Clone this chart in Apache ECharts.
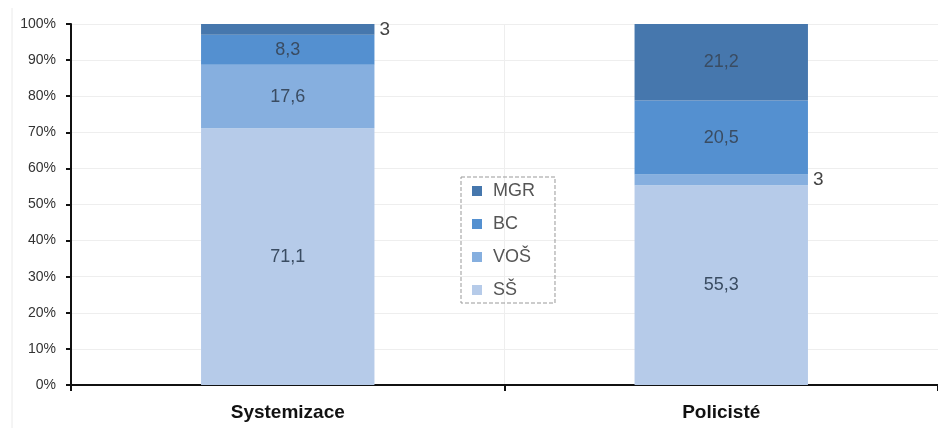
<!DOCTYPE html>
<html><head><meta charset="utf-8">
<script src="https://cdn.jsdelivr.net/npm/echarts@6/dist/echarts.min.js"></script>
<style>html,body{margin:0;padding:0;background:#fff}#c{width:938px;height:428px}</style>
</head><body><div id="c"></div>
<script>
var categories = ['Systemizace', 'Policisté'];
var yTicks = ['0%','10%','20%','30%','40%','50%','60%','70%','80%','90%','100%'];
var seriesNames = ['SŠ', 'VOŠ', 'BC', 'MGR'];
var valSS = [71.1, 55.3];
var valVOS = [17.6, 3];
var valBC = [8.3, 20.5];
var valMGR = [3, 21.2];
var colors = ['#b6cbe9', '#86afdf', '#5490d0', '#4677ad'];

var all = [valSS, valVOS, valBC, valMGR];
function fmt(v){ return String(v).replace('.', ','); }
var series = all.map(function(vals, si){
  return {
    name: seriesNames[si], type: 'bar', stack: 'a', barWidth: '40%',
    itemStyle: {color: colors[si]},
    data: vals.map(function(v){
      var small = v < 5;
      return {value: v, label: {show: true, position: small ? 'right' : 'inside',
        color: small ? '#444' : '#3a4c62', fontSize: small ? 19 : 18,
        formatter: function(p){ return fmt(p.value); }}};
    })
  };
});

var chart = echarts.init(document.getElementById('c'));
chart.setOption({
  animation: false,
  backgroundColor: '#fff',
  textStyle: {fontFamily: 'Liberation Sans, Arial, sans-serif'},
  grid: {left: 71, right: 0, top: 24, bottom: 43},
  graphic: [{type: 'line', shape: {x1: 12, y1: 8, x2: 12, y2: 428},
    style: {stroke: '#eaeaea', lineWidth: 1}, silent: true}],
  legend: {
    orient: 'vertical', left: 461, top: 177,
    data: ['MGR', 'BC', 'VOŠ', 'SŠ'],
    icon: 'rect', itemWidth: 10, itemHeight: 10, itemGap: 15,
    padding: [5, 20, 4, 11],
    borderColor: '#999', borderWidth: 1, borderType: 'dashed',
    textStyle: {fontSize: 18, color: '#555', padding: [0, 0, 0, 6]}
  },
  xAxis: {
    type: 'category', data: categories,
    axisLine: {lineStyle: {color: '#111', width: 2}},
    axisTick: {show: true, length: 6, lineStyle: {color: '#111', width: 2}},
    axisLabel: {fontSize: 19, fontWeight: 'bold', color: '#111', margin: 18},
    splitLine: {show: true, lineStyle: {color: '#eee'}}
  },
  yAxis: {
    type: 'value', min: 0, max: 100, interval: 10,
    axisLine: {show: true, lineStyle: {color: '#111', width: 2}},
    axisTick: {show: true, length: 5, lineStyle: {color: '#111', width: 2}},
    axisLabel: {fontSize: 14, color: '#333', margin: 15,
      fontFamily: 'Liberation Sans Narrow, Liberation Sans, Arial',
      formatter: function(v){ return yTicks[Math.round(v/10)]; }},
    splitLine: {show: true, lineStyle: {color: '#eee'}}
  },
  series: series
});
</script></body></html>
